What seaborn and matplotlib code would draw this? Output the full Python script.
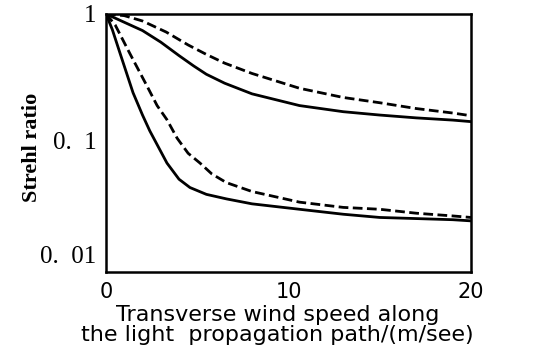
import pandas as pd
import seaborn as sns
import matplotlib.pyplot as plt

# ===== data =====
x_top_dash = [0, 1, 2, 3.3, 4.5, 5.5, 6.5, 8, 10.6, 13, 15, 17, 19, 20]
y_top_dash = [1.0, 0.97, 0.88, 0.72, 0.57, 0.48, 0.41, 0.34, 0.26, 0.22, 0.20, 0.18, 0.166, 0.158]

x_top_solid = [0, 1, 2, 3, 4, 4.8, 5.5, 6.5, 8, 10.6, 13, 15, 17, 19, 20]
y_top_solid = [1.0, 0.86, 0.74, 0.60, 0.47, 0.39, 0.335, 0.285, 0.235, 0.19, 0.17, 0.16, 0.152, 0.146, 0.142]

x_low_dash = [0, 0.5, 1.3, 2.25, 2.8, 3.34, 3.9, 4.5, 5.15, 5.8, 6.6, 8, 10.6, 13, 15, 17, 19, 20]
y_low_dash = [1.0, 0.82, 0.49, 0.27, 0.19, 0.147, 0.105, 0.08, 0.067, 0.055, 0.047, 0.040,
              0.033, 0.030, 0.029, 0.027, 0.0257, 0.025]

x_low_solid = [0, 0.35, 0.77, 1.48, 2.0, 2.4, 2.9, 3.34, 4.0, 4.6, 5.5, 6.6, 8, 10.6, 13, 15, 17, 19, 20]
y_low_solid = [1.0, 0.75, 0.49, 0.24, 0.16, 0.12, 0.088, 0.067, 0.05, 0.043, 0.038, 0.035, 0.032,
               0.029, 0.0265, 0.025, 0.0245, 0.024, 0.0235]

curves = [
    ("top_dash", x_top_dash, y_top_dash, "dash"),
    ("top_solid", x_top_solid, y_top_solid, "solid"),
    ("low_dash", x_low_dash, y_low_dash, "dash"),
    ("low_solid", x_low_solid, y_low_solid, "solid"),
]

frames = []
for name, xs, ys, kind in curves:
    frames.append(pd.DataFrame({"speed": xs, "strehl": ys, "curve": name, "kind": kind}))
df = pd.concat(frames, ignore_index=True)

# ===== plot =====
sns.set_style("white")
plt.rcParams["text.color"] = "black"
plt.rcParams["axes.labelcolor"] = "black"
plt.rcParams["xtick.color"] = "black"
plt.rcParams["ytick.color"] = "black"

fig = plt.figure(figsize=(5.42, 3.54), dpi=100)
ax = fig.add_axes([0.1956, 0.2316, 0.6734, 0.729])

sns.lineplot(data=df, x="speed", y="strehl", units="curve", style="kind",
             estimator=None, color="black", linewidth=2.0,
             dashes={"solid": "", "dash": (3.5, 1.6)}, legend=False, ax=ax, sort=False)

ax.set_yscale("log")
ax.set_xlim(0, 20)
ax.set_ylim(0.0093, 1.0)
ax.set_yticks([0.01, 0.1, 1])
ax.set_yticks([], minor=True)
ax.set_yticklabels(["0.  01", "0.  1", "1"], family="Liberation Serif", fontsize=18)
ax.get_yticklabels()[0].set_va("bottom")
ax.set_xticks([0, 5, 10, 15, 20])
ax.set_xticklabels(["0", "", "10", "", "20"], family="DejaVu Sans", fontsize=15)
ax.tick_params(axis="both", direction="in", length=4, width=1.5)
ax.tick_params(axis="y", pad=7)
ax.tick_params(axis="x", pad=7)

for s in ax.spines.values():
    s.set_linewidth(1.8)
    s.set_color("black")

ax.set_ylabel("Strehl ratio", family="Liberation Serif", fontweight="bold", fontsize=16)
ax.yaxis.set_label_coords(-0.175, 0.484)
ax.set_xlabel("Transverse wind speed along\nthe light  propagation path/(m/see)",
              family="DejaVu Sans", fontsize=16, linespacing=1.0)
ax.xaxis.set_label_coords(0.47, -0.128)

plt.savefig("out.png", dpi=100)
plt.close()
